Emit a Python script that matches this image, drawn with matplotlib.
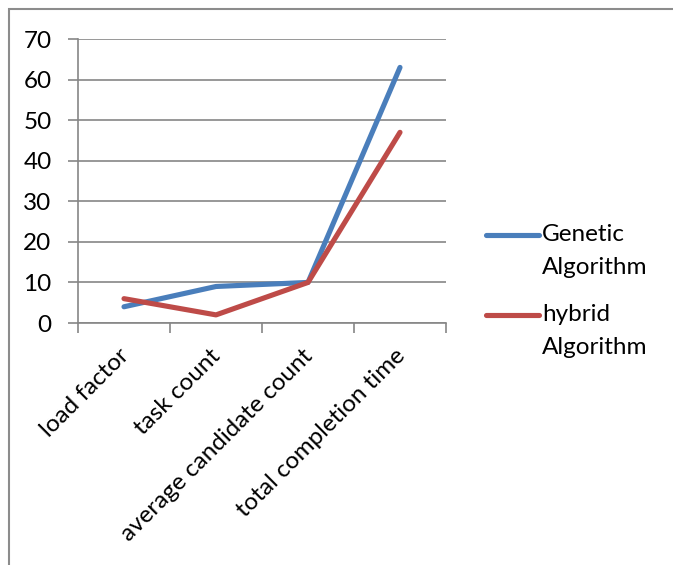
import matplotlib.pyplot as plt
import matplotlib.patches as patches
from matplotlib.transforms import ScaledTranslation

# data
categories = ["load factor", "task count", "average candidate count", "total completion time"]
genetic = [4, 9, 10, 63]
hybrid = [6, 2, 10, 47]
yticks = [0, 10, 20, 30, 40, 50, 60, 70]

plt.rcParams['font.family'] = ['Lato', 'DejaVu Sans']
FS = 17.5

W, H = 673, 565
fig = plt.figure(figsize=(W / 100, H / 100), dpi=100)
ax = fig.add_axes([78 / W, 1 - 323 / H, (446 - 78) / W, (323 - 39) / H])

x = [i + 0.5 for i in range(len(categories))]
ax.plot(x, genetic, color='#4A7EBB', lw=3.7, solid_capstyle='round', solid_joinstyle='round',
        label="Genetic\nAlgorithm")
ax.plot(x, hybrid, color='#BE4B48', lw=3.7, solid_capstyle='round', solid_joinstyle='round',
        label="hybrid\nAlgorithm")

ax.set_xlim(0, len(categories))
ax.set_ylim(0, 70)
ax.set_yticks(yticks)
ax.set_yticklabels([str(v) for v in yticks], fontsize=FS)
ax.yaxis.grid(True, color='#868686', lw=1.2)
ax.set_axisbelow(True)

# category boundaries as ticks, labels centered
ax.set_xticks(range(len(categories) + 1))
ax.set_xticklabels([])
ax.set_xticks(x, minor=True)
ax.set_xticklabels(categories, minor=True, rotation=45, ha='right', va='top',
                   rotation_mode='anchor', fontsize=FS)
ax.tick_params(axis='x', which='minor', length=0, pad=16)
ax.tick_params(axis='x', which='major', length=7, color='#868686', width=1.2)
ax.tick_params(axis='y', length=7, color='#868686', width=1.2, pad=12)
shift = ScaledTranslation(-0.06, 0, fig.dpi_scale_trans)
for lbl in ax.get_xticklabels(minor=True):
    lbl.set_transform(lbl.get_transform() + shift)

for s in ['top', 'right']:
    ax.spines[s].set_visible(False)
for s in ['left', 'bottom']:
    ax.spines[s].set_color('#868686')
    ax.spines[s].set_linewidth(1.2)

leg = ax.legend(loc='upper left', bbox_to_anchor=(408 / 368, 1 - 185 / 284), frameon=False,
                fontsize=FS, handlelength=2.2, handletextpad=0.1, labelspacing=1.07,
                borderaxespad=0, borderpad=0)
for t in leg.get_texts():
    t.set_linespacing(1.72)
# put the line next to the first text line, as in the original
for h in leg.legend_handles:
    h.set_ydata(h.get_ydata() + 11.5)

# chart border
border = patches.Rectangle((9 / W, -0.1), 1.0, 1 - 9 / H + 0.1, transform=fig.transFigure,
                           fill=False, edgecolor='#8c8c8c', lw=1.5)
fig.patches.append(border)

fig.savefig("out.png", dpi=100)
